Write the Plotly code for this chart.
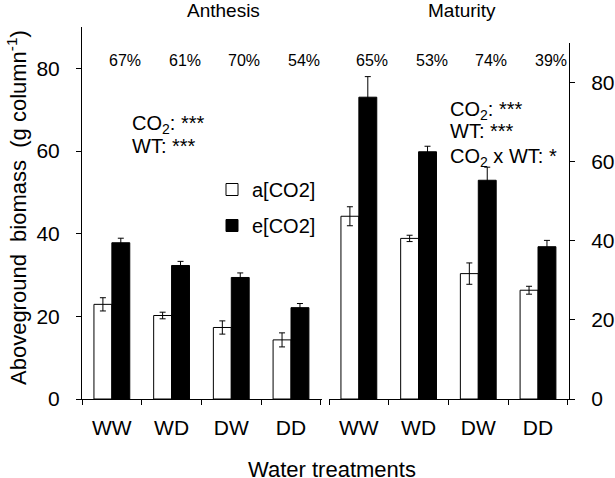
import plotly.graph_objects as go

W, H = 615, 478

categories = ["WW", "WD", "DW", "DD"]

anthesis_a = [22.9, 20.2, 17.3, 14.3]
anthesis_a_err = [1.6, 0.8, 1.6, 1.7]
anthesis_e = [37.8, 32.3, 29.4, 22.1]
anthesis_e_err = [1.1, 1.0, 1.1, 1.0]

maturity_a = [46.2, 40.6, 31.7, 27.5]
maturity_a_err = [2.4, 0.8, 2.7, 1.0]
maturity_e = [76.3, 62.5, 55.3, 38.5]
maturity_e_err = [5.2, 1.4, 3.3, 1.6]

anthesis_pct = ["67%", "61%", "70%", "54%"]
maturity_pct = ["65%", "53%", "74%", "39%"]

y_ticks = [0, 20, 40, 60, 80]

FONT = "Liberation Sans, Arial, sans-serif"


def px_x(p):
    return p / W


def px_y(p):
    return (H - p) / H


fig = go.Figure()

err_style = dict(type="data", thickness=1, width=3, color="black", visible=True)

fig.add_trace(go.Bar(
    x=categories, y=anthesis_a, name="a[CO2]", legendgroup="a",
    marker=dict(color="white", line=dict(color="black", width=1)),
    error_y=dict(array=anthesis_a_err, **err_style),
    xaxis="x", yaxis="y",
))
fig.add_trace(go.Bar(
    x=categories, y=anthesis_e, name="e[CO2]", legendgroup="e",
    marker=dict(color="black", line=dict(color="black", width=1)),
    error_y=dict(array=anthesis_e_err, **err_style),
    xaxis="x", yaxis="y",
))
fig.add_trace(go.Bar(
    x=categories, y=maturity_a, name="a[CO2]", legendgroup="a", showlegend=False,
    marker=dict(color="white", line=dict(color="black", width=1)),
    error_y=dict(array=maturity_a_err, **err_style),
    xaxis="x2", yaxis="y2",
))
fig.add_trace(go.Bar(
    x=categories, y=maturity_e, name="e[CO2]", legendgroup="e", showlegend=False,
    marker=dict(color="black", line=dict(color="black", width=1)),
    error_y=dict(array=maturity_e_err, **err_style),
    xaxis="x2", yaxis="y2",
))

axis_common = dict(
    showgrid=False, zeroline=False, showline=True, linecolor="black", linewidth=1,
    ticks="outside", ticklen=5, tickcolor="black", tickwidth=1, automargin=False,
    tickfont=dict(size=21, color="black", family=FONT),
)

annotations = []
pct_font = dict(size=16, color="black", family=FONT)
for i, t in enumerate(anthesis_pct):
    annotations.append(dict(x=categories[i], y=px_y(60), xref="x", yref="paper",
                            xanchor="center", yanchor="middle",
                            text=t, showarrow=False, xshift=13, font=pct_font))
for i, t in enumerate(maturity_pct):
    annotations.append(dict(x=categories[i], y=px_y(60), xref="x2", yref="paper",
                            xanchor="center", yanchor="middle",
                            text=t, showarrow=False, xshift=13, font=pct_font))

txt_font = dict(size=20, color="black", family=FONT)
annotations += [
    dict(x=px_x(223), y=px_y(10), xref="paper", yref="paper", text="Anthesis",
         xanchor="center", yanchor="middle",
         showarrow=False, font=dict(size=19, color="black", family=FONT)),
    dict(x=px_x(462), y=px_y(10), xref="paper", yref="paper", text="Maturity",
         xanchor="center", yanchor="middle",
         showarrow=False, font=dict(size=19, color="black", family=FONT)),
    dict(x=px_x(130), y=px_y(124), xref="paper", yref="paper", xanchor="left", yanchor="middle",
         text="CO<sub>2</sub>: ***", showarrow=False, font=txt_font),
    dict(x=px_x(130), y=px_y(146), xref="paper", yref="paper", xanchor="left", yanchor="middle",
         text="WT: ***", showarrow=False, font=txt_font),
    dict(x=px_x(448), y=px_y(110), xref="paper", yref="paper", xanchor="left", yanchor="middle",
         text="CO<sub>2</sub>: ***", showarrow=False, font=txt_font),
    dict(x=px_x(448), y=px_y(131), xref="paper", yref="paper", xanchor="left", yanchor="middle",
         text="WT: ***", showarrow=False, font=txt_font),
    dict(x=px_x(448), y=px_y(157), xref="paper", yref="paper", xanchor="left", yanchor="middle",
         text="CO<sub>2</sub> x WT: *", showarrow=False, font=txt_font),
    dict(x=px_x(332), y=px_y(469), xref="paper", yref="paper",
         xanchor="center", yanchor="middle",
         text="Water treatments", showarrow=False,
         font=dict(size=22, color="black", family=FONT)),
    dict(x=px_x(17), y=px_y(208), xref="paper", yref="paper", textangle=-90,
         xanchor="center", yanchor="middle",
         text="Aboveground  biomass  (g column<sup>-1</sup>)", showarrow=False,
         font=dict(size=22, color="black", family=FONT)),
]

fig.update_layout(
    width=W, height=H,
    margin=dict(l=0, r=0, t=0, b=0, autoexpand=False),
    paper_bgcolor="white", plot_bgcolor="white",
    barmode="group", bargap=0.4, bargroupgap=0,
    font=dict(family=FONT, color="black"),
    xaxis=dict(domain=[px_x(82), px_x(322)], anchor="y", tickson="boundaries",
               ticklabelstandoff=10, **axis_common),
    yaxis=dict(domain=[px_y(399), px_y(27)], anchor="x", range=[0, 90],
               tickvals=y_ticks, ticklabelstandoff=12, **axis_common),
    xaxis2=dict(domain=[px_x(329), px_x(569)], anchor="y2", tickson="boundaries",
                ticklabelstandoff=10, **axis_common),
    yaxis2=dict(domain=[px_y(399), px_y(43)], anchor="x2", side="right", range=[0, 90],
                tickvals=y_ticks, ticklabelstandoff=12, **axis_common),
    showlegend=True,
    legend=dict(x=px_x(212), y=px_y(170), xanchor="left", yanchor="top",
                bgcolor="rgba(0,0,0,0)", font=dict(size=20, color="black", family=FONT),
                tracegroupgap=7, traceorder="grouped"),
    annotations=annotations,
)

# remove the browser's default 8px page margin so the figure fills the window
fig.write_html("out.html", config={"displayModeBar": False},
               post_script="document.body.style.margin='0px';")
